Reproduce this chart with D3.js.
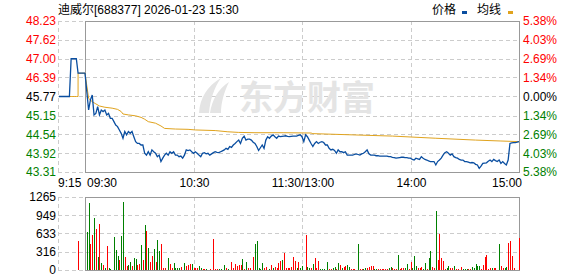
<!DOCTYPE html>
<html lang="zh">
<head>
<meta charset="utf-8">
<title>迪威尔 分时</title>
<script src="https://cdn.jsdelivr.net/npm/d3@7"></script>
<style>
body{margin:0;background:#fff;}
text{font-family:"Liberation Sans",Arial,"Noto Sans CJK SC",sans-serif;font-size:12px;}
</style>
</head>
<body>
<script>
// ---- data ----
var preClose = 45.77;
var priceTicks = [48.23, 47.62, 47.00, 46.39, 45.77, 45.15, 44.54, 43.92, 43.31];
var pctTicks = ["5.38", "4.03", "2.69", "1.34", "0.00", "1.34", "2.69", "4.03", "5.38"];
var volTicks = [1265, 949, 633, 316, 0];
var timeLabels = ["10:30", "11:30/13:00", "14:00"];
var timeLabelMin = [60, 120, 180];

// call auction 9:15 - 9:30
var prePrice = [45.77,45.77,45.77,45.77,45.77,45.77,45.77,47.00,47.00,47.00,47.00,46.53,46.53,46.53,46.53,46.53];
var preAvg   = [45.77,45.77,45.77,45.77,45.77,45.77,45.77,45.77,45.77,45.77,45.77,46.53,46.53,46.53,46.53,46.53];
var preVolMin = [11];
var preVol = [502];

// one price per minute, 09:30 .. 15:00 (241 points)
var price = [
46.53,45.93,45.33,45.66,45.82,45.17,45.22,45.44,45.17,45.33,
45.28,45.33,45.17,45.22,45.06,45.06,44.95,44.84,44.79,44.68,
44.57,44.41,44.63,44.52,44.63,44.57,44.63,44.46,44.30,44.24,
44.24,44.19,44.19,43.92,43.86,43.97,43.86,44.03,43.97,43.92,
43.81,43.86,43.65,43.76,43.86,43.92,43.86,43.97,43.92,43.97,
43.86,43.86,43.81,43.83,43.76,43.86,44.03,44.01,44.03,43.97,
43.92,43.97,43.92,43.86,43.81,43.92,43.94,43.90,43.92,43.86,
43.90,43.94,43.97,43.95,43.94,43.97,44.00,44.03,44.08,44.05,
44.14,44.11,44.19,44.24,44.30,44.35,44.24,44.41,44.48,44.35,
44.38,44.38,44.35,44.28,44.24,44.14,44.01,44.10,44.19,44.08,
44.35,44.46,44.41,44.48,44.52,44.46,44.41,44.48,44.46,44.47,
44.48,44.49,44.47,44.46,44.47,44.48,44.48,44.48,44.50,44.52,
44.46,44.30,44.52,44.46,44.35,44.24,44.14,44.24,44.30,44.24,
44.28,44.30,44.27,44.19,44.19,44.08,44.03,44.05,44.01,43.92,
44.03,43.97,43.97,43.94,43.97,43.86,43.86,43.86,43.86,43.88,
43.90,43.88,43.86,43.90,43.92,43.97,44.03,43.90,43.86,43.86,
43.86,43.84,43.84,43.83,43.83,43.83,43.83,43.83,43.81,43.81,
43.79,43.78,43.76,43.77,43.78,43.79,43.79,43.78,43.78,43.76,
43.76,43.72,43.70,43.76,43.74,43.72,43.81,43.76,43.72,43.70,
43.67,43.65,43.65,43.65,43.54,43.65,43.70,43.76,43.86,43.94,
43.97,43.92,43.86,43.90,43.81,43.78,43.76,43.72,43.70,43.70,
43.65,43.65,43.63,43.61,43.62,43.61,43.56,43.54,43.43,43.50,
43.59,43.60,43.61,43.66,43.70,43.65,43.72,43.68,43.65,43.70,
43.59,43.65,43.59,43.54,43.70,44.24,44.26,44.27,44.27,44.28,
44.30];

// average price line, read at these minutes
var avgMin = [0,2,4,6,8,11,15,18,20,21,24,28,31,33,35,39,42,44,50,57,61,72,79,85,94,110,125,126,148,170,194,216,230,240];
var avgVal = [46.53,45.71,45.60,45.53,45.46,45.42,45.39,45.35,45.28,45.20,45.17,45.14,45.09,45.03,44.95,44.90,44.81,44.73,44.71,44.70,44.68,44.66,44.62,44.60,44.59,44.59,44.58,44.56,44.52,44.48,44.41,44.35,44.32,44.30];

// volume bars (minute, lots, r = up, g = down)
var volMin = [
1,2,3,4,5,6,7,8,9,10, 11,12,13,14,16,17,18,19,20,21, 22,23,24,25,26,27,28,29,30,31,
32,33,34,35,36,37,38,39,40,41, 42,43,44,46,47,48,49,50,51,52, 53,55,56,57,58,59,60,61,62,63,
64,65,66,67,69,71,72,73,74,75, 77,78,79,81,82,83,84,85,86,87, 88,89,90,91,93,94,95,96,97,98,
99,100,102,103,104,105,106,107,108,109, 110,111,112,113,114,115,116,117,118,119,
120,122,123,124,125,126,127,128,129,130, 131,132,134,135,136,137,138,139,140,141,
142,143,144,145,146,147,148,149,151,152, 153,154,155,156,157,158,159,160,161,162,
163,164,165,166,167,168,169,170,171,172, 173,174,175,176,177,178,179,180,181,182,
183,184,185,186,187,188,189,190,191,192, 193,194,195,196,197,198,199,200,201,202,
203,204,205,206,208,209,210,211,212,213, 214,215,216,217,218,219,220,221,222,223,
224,225,226,227,229,230,231,232,233,234, 235,236,237,240];
var volAmt = [
664,1167,450,607,901,711,231,797,127,87, 40,416,29,17,578,347,243,173,589,1173, 231,69,87,133,69,208,191,87,104,433,
173,780,676,387,133,243,364,144,520,329, 445,40,29,214,104,29,116,29,29,40, 58,116,69,87,98,104,29,29,40,69,
29,17,17,17,17,537,17,17,17,17, 87,29,17,133,29,104,75,87,87,191, 17,144,29,29,231,445,503,29,17,116,
29,58,17,87,40,58,40,116,156,173, 289,29,29,29,58,231,156,29,133,29,
69,607,58,29,29,104,214,29,156,17, 17,17,133,17,17,29,58,17,116,87,
29,58,69,87,58,17,17,17,450,17, 17,17,29,40,58,69,69,17,17,17,
17,17,17,17,17,29,58,29,17,17, 260,17,29,40,29,104,17,133,29,243,
69,29,29,58,17,116,17,214,329,58, 29,1023,173,624,214,156,17,40,69,29,
29,69,17,17,58,17,17,17,17,17, 58,29,104,69,69,17,87,231,260,17,
29,40,29,29,445,69,29,29,58,462, 503,243,29,555];
var volDir = [
"g","g","r","r","g","r","g","r","g","r", "g","r","g","g","g","g","g","r","g","g", "r","r","g","g","r","g","g","r","r","g",
"r","g","r","g","r","r","g","r","g","g", "r","r","r","g","r","r","g","g","g","g", "r","g","r","r","r","g","r","r","r","g",
"g","r","r","g","r","r","r","r","g","g", "g","r","g","r","r","r","r","r","r","g", "r","g","r","r","r","g","g","g","g","g",
"r","r","g","r","g","r","r","r","r","g", "r","r","r","r","r","r","r","g","r","g",
"g","r","g","g","r","g","r","r","r","g", "g","g","g","r","r","g","g","r","g","r",
"g","r","r","g","g","r","r","r","g","r", "r","g","g","r","r","r","r","g","g","r",
"r","r","r","r","r","g","g","r","r","r", "g","r","r","r","g","g","r","r","g","g",
"g","r","r","r","g","g","r","g","g","r", "r","g","r","r","r","r","r","g","g","r",
"r","g","r","r","r","g","g","g","r","r", "g","g","g","g","g","r","r","r","r","r",
"r","g","r","r","g","r","r","g","g","r", "r","r","r","r"];

// ---- layout ----
var w = 578, h = 276;
var RED = "#ff0000", GREEN = "#008000", GRID = "#cccccc", BOX = "#999999";
var BLUE = "#0a4ea0", GOLD = "#e0a31e";

var svg = d3.select("body").append("svg").attr("width", w).attr("height", h);

var x = d3.scaleLinear().domain([0, 240]).range([85, 519]);
var xPre = d3.scaleLinear().domain([0, 15]).range([59, 85]);
var y = d3.scaleLinear().domain([43.31, 48.23]).range([172, 21]);
var yv = d3.scaleLinear().domain([0, 1265]).range([270, 197]);

function px(v){ return Math.round(v) + 0.5; }

// grid
var grid = svg.append("g").attr("stroke", GRID).attr("stroke-dasharray", "4,3").attr("shape-rendering", "crispEdges");
priceTicks.forEach(function(t){
  grid.append("line").attr("x1", 58).attr("x2", 519).attr("y1", px(y(t))).attr("y2", px(y(t)));
});
volTicks.forEach(function(t){
  grid.append("line").attr("x1", 58).attr("x2", 519).attr("y1", px(yv(t))).attr("y2", px(yv(t)));
});
[58].concat(timeLabelMin.map(function(m){ return x(m); })).forEach(function(gx){
  grid.append("line").attr("x1", px(gx)).attr("x2", px(gx)).attr("y1", y(48.23)).attr("y2", y(43.31));
  grid.append("line").attr("x1", px(gx)).attr("x2", px(gx)).attr("y1", yv(1265)).attr("y2", yv(0));
});

// watermark
var wm = svg.append("g").attr("fill", "#e4e4e4");
wm.append("path").attr("d", "M199,113 C200,98 207,86 221,78 C214,88 210,100 209,113 Z");
wm.append("path").attr("d", "M210,113 C212,100 218,89 229,82 C224,92 221,103 221,113 Z");
wm.append("text").attr("x", 239).attr("y", 110)
  .style("font-family", "'Noto Sans CJK SC'").style("font-size", "34px").style("font-weight", "bold")
  .text("东方财富");

// boxes
svg.append("rect").attr("x", 85.5).attr("y", 21.5).attr("width", 434).attr("height", 151)
  .attr("fill", "none").attr("stroke", BOX).attr("shape-rendering", "crispEdges");
svg.append("rect").attr("x", 85.5).attr("y", 197.5).attr("width", 434).attr("height", 73)
  .attr("fill", "none").attr("stroke", BOX).attr("shape-rendering", "crispEdges");

// price & average lines
var preLine = d3.line().x(function(d, i){ return xPre(i); }).y(function(d){ return y(d); });
var preAvgLine = d3.line().curve(d3.curveStepAfter).x(function(d, i){ return xPre(i); }).y(function(d){ return y(d); });
var mainLine = d3.line().x(function(d, i){ return x(i); }).y(function(d){ return y(d); });
var avgLine = d3.line().x(function(d){ return x(d[0]); }).y(function(d){ return y(d[1]); });

svg.append("path").attr("d", preAvgLine(preAvg)).attr("fill", "none").attr("stroke", GOLD).attr("stroke-width", 1);
svg.append("path").attr("d", avgLine(d3.zip(avgMin, avgVal))).attr("fill", "none").attr("stroke", GOLD).attr("stroke-width", 1);
svg.append("path").attr("d", preLine(prePrice)).attr("fill", "none").attr("stroke", BLUE).attr("stroke-width", 1.3);
svg.append("path").attr("d", mainLine(price)).attr("fill", "none").attr("stroke", BLUE).attr("stroke-width", 1.3);

// volume bars
svg.append("g").selectAll("rect").data(d3.range(volMin.length)).enter().append("rect")
  .attr("x", function(i){ return Math.round(x(volMin[i])); })
  .attr("y", function(i){ return Math.round(yv(volAmt[i])); })
  .attr("width", 1)
  .attr("height", function(i){ return Math.round(yv(0)) - Math.round(yv(volAmt[i])); })
  .attr("fill", function(i){ return volDir[i] == "r" ? RED : GREEN; })
  .attr("shape-rendering", "crispEdges");
svg.append("g").selectAll("rect").data(preVolMin).enter().append("rect")
  .attr("x", function(d){ return Math.round(xPre(d)); })
  .attr("y", function(d, i){ return Math.round(yv(preVol[i])); })
  .attr("width", 1)
  .attr("height", function(d, i){ return Math.round(yv(0)) - Math.round(yv(preVol[i])); })
  .attr("fill", RED).attr("shape-rendering", "crispEdges");

// axis labels
function tickColor(v){ return v > preClose + 0.001 ? RED : (v < preClose - 0.001 ? GREEN : "#000"); }
svg.append("g").selectAll("text").data(priceTicks).enter().append("text")
  .attr("x", 56).attr("y", function(d){ return y(d); }).attr("dy", "0.36em")
  .attr("text-anchor", "end").attr("fill", tickColor)
  .text(function(d){ return d.toFixed(2); });
svg.append("g").selectAll("text").data(pctTicks).enter().append("text")
  .attr("x", 523).attr("y", function(d, i){ return y(priceTicks[i]); }).attr("dy", "0.36em")
  .attr("fill", function(d, i){ return tickColor(priceTicks[i]); })
  .text(function(d){ return d + "%"; });
svg.append("g").selectAll("text").data(volTicks).enter().append("text")
  .attr("x", 56).attr("y", function(d){ return yv(d); }).attr("dy", "0.36em")
  .attr("text-anchor", "end").attr("fill", "#000")
  .text(function(d){ return d; });

// time labels
svg.append("text").attr("x", 58).attr("y", 187).text("9:15");
svg.append("text").attr("x", 87).attr("y", 187).text("09:30");
svg.append("g").selectAll("text").data(timeLabels).enter().append("text")
  .attr("x", function(d, i){ return x(timeLabelMin[i]) + 1; }).attr("y", 187)
  .attr("text-anchor", "middle").text(function(d){ return d; });
svg.append("text").attr("x", 522).attr("y", 187).attr("text-anchor", "end").text("15:00");

// title & legend
svg.append("text").attr("x", 58).attr("y", 14).text("迪威尔[688377] 2026-01-23 15:30");
svg.append("text").attr("x", 432).attr("y", 14).text("价格");
svg.append("rect").attr("x", 462).attr("y", 11).attr("width", 5).attr("height", 3).attr("fill", BLUE);
svg.append("text").attr("x", 477).attr("y", 14).text("均线");
svg.append("rect").attr("x", 508).attr("y", 11).attr("width", 5).attr("height", 3).attr("fill", GOLD);
</script>
</body>
</html>
